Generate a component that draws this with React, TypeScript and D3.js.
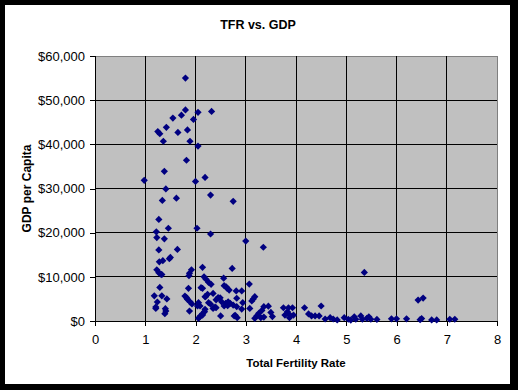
import { useEffect, useRef } from 'react';
import * as d3 from 'd3';

// Total fertility rate (x) and GDP per capita (y)
const tfr = [
  1.80, 1.80, 2.05, 2.32, 1.72, 1.55, 1.96, 1.42, 1.84, 1.25, 1.29, 1.65, 1.36, 1.89, 2.05,
  1.82, 1.38, 0.98, 2.00, 2.19, 1.41, 1.62, 1.34, 2.30, 2.75, 1.27, 1.46, 2.03, 2.30, 1.22,
  1.23, 1.38, 3.00, 3.35, 1.27, 1.64, 1.50, 1.48, 1.28, 1.35, 1.23, 1.27, 1.31, 1.33, 1.92,
  1.88, 1.87, 2.14, 2.73, 2.17, 2.21, 2.26, 2.56, 2.31, 3.07, 1.29, 1.86, 2.11, 2.57, 2.63,
  2.67, 2.35, 2.24, 2.20, 1.18, 1.33, 1.79, 1.82, 1.84, 2.82, 2.92, 1.43, 1.24, 1.89, 1.93,
  2.45, 2.41, 2.52, 2.60, 2.64, 2.69, 2.04, 2.26, 2.30, 2.39, 1.21, 1.40, 1.41, 1.39, 1.88,
  2.19, 2.14, 2.09, 2.06, 2.50, 2.79, 2.83, 3.18, 3.15, 3.12, 2.94, 3.08, 2.92, 3.36, 3.45,
  3.32, 3.26, 3.22, 3.18, 3.30, 3.36, 3.50, 3.53, 3.75, 3.85, 3.93, 3.78, 3.88, 3.95, 3.87,
  3.83, 4.17, 4.25, 4.31, 4.38, 4.46, 4.50, 4.58, 4.68, 4.74, 4.82, 5.36, 6.43, 6.53, 4.96,
  5.04, 5.09, 5.16, 5.19, 5.29, 5.32, 5.41, 5.45, 5.49, 5.61, 5.90, 6.00, 6.20, 6.47, 6.50,
  6.70, 6.80, 7.06, 7.16, 2.61, 2.81, 2.75, 2.82, 2.65, 2.57, 2.49, 2.35, 2.41, 2.77, 2.18,
  2.14, 2.06, 2.09, 2.14, 2.19, 1.21,
];
const gdp = [
  55000, 47800, 47250, 47450, 46600, 45950, 45650, 43850, 43250, 42900, 42400, 42700, 40700, 40700, 39600,
  36400, 33900, 31850, 31600, 32500, 29900, 27800, 27300, 28500, 27100, 23000, 21000, 21000, 19700, 20200,
  18900, 18600, 18100, 16700, 16100, 16200, 14400, 14100, 13400, 13650, 11600, 10950, 10600, 10500, 11600,
  10800, 10250, 12150, 11900, 10000, 9450, 8750, 9700, 8300, 8350, 7600, 7400, 7550, 8000, 7400,
  7000, 6250, 6050, 5500, 5700, 5700, 5650, 5300, 4900, 5150, 6800, 5000, 4300, 4350, 3850,
  5300, 4800, 4350, 4000, 3450, 4000, 3400, 4150, 3800, 3150, 3150, 2800, 2250, 1650, 2250,
  2650, 1650, 1050, 600, 1150, 1300, 750, 5500, 5000, 4550, 4150, 2850, 2700, 3250, 3350,
  2400, 1750, 1150, 600, 750, 900, 1950, 1000, 3000, 3000, 3000, 1350, 1350, 1350, 750,
  2100, 3000, 1600, 1150, 1150, 1150, 3400, 450, 750, 450, 250, 11000, 4750, 5200, 750,
  400, 200, 950, 400, 1150, 400, 600, 950, 400, 350, 500, 500, 500, 300, 550,
  250, 250, 400, 400, 7750, 6800, 3600, 3250, 4350, 3400, 5250, 2850, 3000, 1150, 2100,
  1350, 4150, 3400, 7400, 5500, 2850,
];

const xTicks = [0, 1, 2, 3, 4, 5, 6, 7, 8];
const yTicks = [0, 10000, 20000, 30000, 40000, 50000, 60000];

const FONT = '"Liberation Sans", Arial, sans-serif';

export default function App() {
  const svgRef = useRef<SVGSVGElement>(null);

  useEffect(() => {
    if (!svgRef.current) return;
    const el = svgRef.current;
    d3.select(el).selectAll('*').remove();

    const W = 518;
    const H = 390;
    const margin = { top: 56, right: 21, bottom: 69, left: 95 };
    const w = W - margin.left - margin.right;
    const h = H - margin.top - margin.bottom;

    const svg = d3.select(el).attr('width', W).attr('height', H);

    // black frame with white chart area
    svg.append('rect').attr('width', W).attr('height', H).attr('fill', '#000');
    svg.append('rect')
      .attr('x', 5).attr('y', 5)
      .attr('width', 505).attr('height', 379)
      .attr('fill', '#fff');

    const g = svg.append('g').attr('transform', `translate(${margin.left},${margin.top})`);

    const x = d3.scaleLinear().domain([0, 8]).range([0, w]);
    const y = d3.scaleLinear().domain([0, 60000]).range([h, 0]);

    // plot area
    g.append('rect')
      .attr('width', w).attr('height', h)
      .attr('fill', '#c0c0c0')
      .attr('stroke', '#808080')
      .attr('shape-rendering', 'crispEdges');

    // gridlines
    g.append('g')
      .selectAll('line')
      .data(yTicks.slice(1, -1))
      .join('line')
      .attr('x1', 0).attr('x2', w)
      .attr('y1', d => y(d)).attr('y2', d => y(d))
      .attr('stroke', '#000')
      .attr('shape-rendering', 'crispEdges');
    g.append('g')
      .selectAll('line')
      .data(xTicks.slice(1, -1))
      .join('line')
      .attr('y1', 0).attr('y2', h)
      .attr('x1', d => x(d)).attr('x2', d => x(d))
      .attr('stroke', '#000')
      .attr('shape-rendering', 'crispEdges');

    // axes
    const yAxis = g.append('g')
      .call(d3.axisLeft(y).tickValues(yTicks).tickSize(5).tickPadding(5).tickFormat(d3.format('$,.0f')));
    const xAxis = g.append('g')
      .attr('transform', `translate(0,${h})`)
      .call(d3.axisBottom(x).tickValues(xTicks).tickSize(5).tickPadding(9).tickFormat(d3.format('d')));

    [yAxis, xAxis].forEach(a => {
      a.select('.domain').attr('stroke', '#000').attr('shape-rendering', 'crispEdges');
      a.selectAll('.tick line').attr('stroke', '#000').attr('shape-rendering', 'crispEdges');
      a.selectAll('text')
        .style('font-family', FONT)
        .style('font-size', '13px')
        .style('fill', '#000');
    });
    // keep domain path flat (no outer ticks)
    yAxis.select('.domain').attr('d', `M0,0V${h}`);
    xAxis.select('.domain').attr('d', `M0,0H${w}`);

    // markers
    const diamond = d3.symbol().type(d3.symbolSquare).size(26)();
    g.append('g')
      .selectAll('path')
      .data(tfr.map((t, i) => ({ t, v: gdp[i] })))
      .join('path')
      .attr('d', diamond)
      .attr('transform', d => `translate(${x(d.t)},${y(d.v)}) rotate(45)`)
      .attr('fill', '#000080');

    // titles
    svg.append('text')
      .attr('x', 258).attr('y', 29)
      .attr('text-anchor', 'middle')
      .style('font-family', FONT)
      .style('font-size', '12.5px')
      .style('font-weight', 'bold')
      .text('TFR vs. GDP');

    svg.append('text')
      .attr('x', margin.left + w / 2).attr('y', 367)
      .attr('text-anchor', 'middle')
      .style('font-family', FONT)
      .style('font-size', '11.5px')
      .style('font-weight', 'bold')
      .text('Total Fertility Rate');

    svg.append('text')
      .attr('transform', `translate(31,${margin.top + h / 2}) rotate(-90)`)
      .attr('text-anchor', 'middle')
      .style('font-family', FONT)
      .style('font-size', '12px')
      .style('font-weight', 'bold')
      .text('GDP per Capita');
  }, []);

  return (
    <svg ref={svgRef} style={{ position: 'absolute', left: 0, top: 0, display: 'block' }} />
  );
}
